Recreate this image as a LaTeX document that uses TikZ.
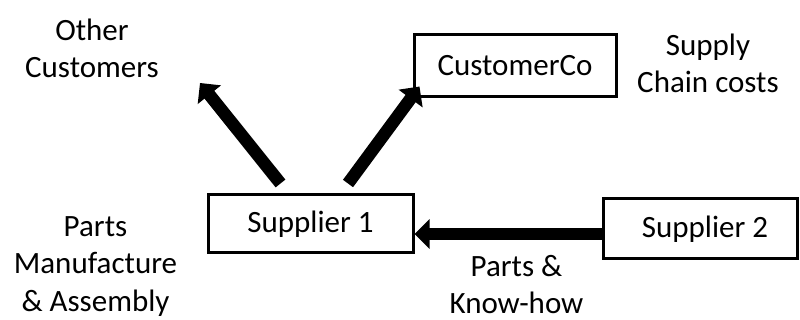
\documentclass[tikz,border=0pt]{standalone}
\usepackage{fontspec}
\setmainfont{Carlito}
\usetikzlibrary{arrows.meta}
\begin{document}
\begin{tikzpicture}[x=1pt,y=1pt,
  box/.style={draw, line width=3pt, inner sep=0pt, font=\fontsize{31}{37.5}\selectfont},
  lbl/.style={font=\fontsize{31}{37.5}\selectfont, align=center, anchor=base, inner sep=0pt},
  bigarrow/.style={line width=12.5pt, -{Triangle[length=15pt,width=29pt]}}]
\useasboundingbox (0,0) rectangle (800,320);
% boxes
\node[box, minimum width=205pt, minimum height=58pt] (s1) at (310.5,96) {Supplier 1};
\node[box, minimum width=194pt, minimum height=60pt] (s2) at (700,91) {\hspace*{10pt}Supplier 2};
\node[box, minimum width=202pt, minimum height=62pt] (cc) at (515,254) {CustomerCo};
% labels (anchor = baseline of the last line)
\node[lbl] (other) at (92,242) {Other\\Customers};
\node[lbl] (scc) at (708,227) {Supply\\Chain costs};
\node[lbl] (pma) at (95.5,8.5) {Parts\\Manufacture\\\& Assembly};
\node[lbl] (pkh) at (516.5,6) {Parts \&\\Know-how};
% connectors
\coordinate (octip) at (200,237);
\draw[bigarrow] ([shift={(-30,10)}]s1.north) -- (octip);
\draw[bigarrow] ([shift={(37.5,10)}]s1.north) -- ([shift={(7,12)}]cc.south west);
\draw[bigarrow] ([yshift=-5pt]s2.west) -- ([yshift=-10pt]s1.east);
\end{tikzpicture}
\end{document}
